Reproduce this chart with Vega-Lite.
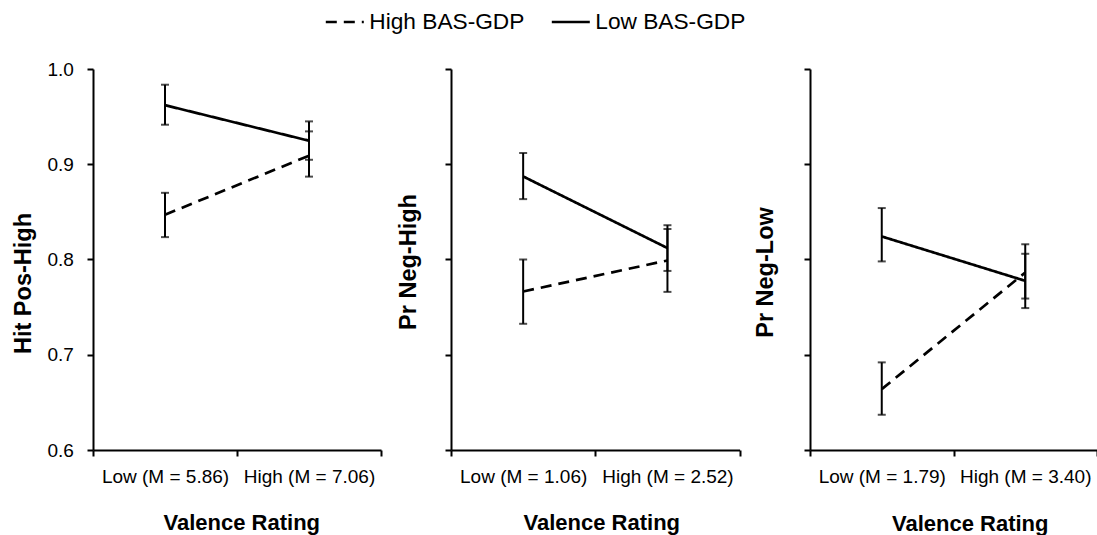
{
  "$schema": "https://vega.github.io/schema/vega-lite/v6.json",
  "background": "white",
  "padding": {"left": 11, "top": 1, "right": 0, "bottom": 0},
  "data": {
    "values": [
      {"panel": "A", "group": "High BAS-GDP", "valence": "Low (M = 5.86)", "value": 0.847, "lo": 0.8235, "hi": 0.870},
      {"panel": "A", "group": "High BAS-GDP", "valence": "High (M = 7.06)", "value": 0.909, "lo": 0.887, "hi": 0.9345},
      {"panel": "A", "group": "Low BAS-GDP", "valence": "Low (M = 5.86)", "value": 0.962, "lo": 0.9415, "hi": 0.9835},
      {"panel": "A", "group": "Low BAS-GDP", "valence": "High (M = 7.06)", "value": 0.9247, "lo": 0.9047, "hi": 0.945},
      {"panel": "B", "group": "High BAS-GDP", "valence": "Low (M = 1.06)", "value": 0.7664, "lo": 0.7325, "hi": 0.800},
      {"panel": "B", "group": "High BAS-GDP", "valence": "High (M = 2.52)", "value": 0.799, "lo": 0.766, "hi": 0.832},
      {"panel": "B", "group": "Low BAS-GDP", "valence": "Low (M = 1.06)", "value": 0.8872, "lo": 0.8634, "hi": 0.9118},
      {"panel": "B", "group": "Low BAS-GDP", "valence": "High (M = 2.52)", "value": 0.812, "lo": 0.788, "hi": 0.836},
      {"panel": "C", "group": "High BAS-GDP", "valence": "Low (M = 1.79)", "value": 0.6639, "lo": 0.637, "hi": 0.692},
      {"panel": "C", "group": "High BAS-GDP", "valence": "High (M = 3.40)", "value": 0.7863, "lo": 0.759, "hi": 0.816},
      {"panel": "C", "group": "Low BAS-GDP", "valence": "Low (M = 1.79)", "value": 0.8242, "lo": 0.798, "hi": 0.854},
      {"panel": "C", "group": "Low BAS-GDP", "valence": "High (M = 3.40)", "value": 0.7776, "lo": 0.749, "hi": 0.806}
    ]
  },
  "spacing": 70,
  "bounds": "flush",
  "resolve": {"scale": {"strokeDash": "shared"}, "legend": {"strokeDash": "shared"}},
  "hconcat": [
    {
      "width": 288, "height": 381,
      "transform": [{"filter": "datum.panel === 'A'"}],
      "encoding": {
        "x": {"field": "valence", "type": "nominal", "sort": null, "title": "Valence Rating",
          "scale": {"type": "band", "paddingInner": 0, "paddingOuter": 0},
          "axis": {"tickBand": "extent", "labelAngle": 0, "titleX": 148.3}}
      },
      "layer": [
        {"mark": {"type": "line", "color": "black", "strokeWidth": 2.7},
         "encoding": {
           "y": {"field": "value", "type": "quantitative", "title": "Hit Pos-High", "scale": {"domain": [0.6, 1.0], "nice": false, "zero": false},
             "axis": {"values": [0.6, 0.7, 0.8, 0.9, 1.0], "format": ".1f", "titlePadding": 11, "titleY": 214}},
           "strokeDash": {"field": "group", "type": "nominal", "scale": {"domain": ["High BAS-GDP", "Low BAS-GDP"], "range": [[11, 7], [1, 0]]},
             "legend": {"orient": "none", "legendX": 231.3, "legendY": -68, "direction": "horizontal", "title": null, "symbolType": "stroke", "symbolSize": 1444, "symbolStrokeWidth": 2.5, "symbolStrokeColor": "black", "labelFontSize": 22.7, "labelColor": "black", "labelOffset": 4, "columnPadding": 21, "padding": 0,
               "encode": {"symbols": {"update": {"strokeDash": {"signal": "datum.value === 'High BAS-GDP' ? [8, 7] : [1, 0]"}}}}}}
         }},
        {"mark": {"type": "rule", "color": "black", "strokeWidth": 2},
         "encoding": {"y": {"field": "lo", "type": "quantitative", "title": "Hit Pos-High"}, "y2": {"field": "hi"}, "detail": {"field": "group"}}},
        {"mark": {"type": "tick", "color": "black", "size": 8, "thickness": 2},
         "encoding": {"y": {"field": "lo", "type": "quantitative", "title": "Hit Pos-High"}}},
        {"mark": {"type": "tick", "color": "black", "size": 8, "thickness": 2},
         "encoding": {"y": {"field": "hi", "type": "quantitative", "title": "Hit Pos-High"}}}
      ]
    },
    {
      "width": 288.6, "height": 381,
      "transform": [{"filter": "datum.panel === 'B'"}],
      "encoding": {
        "x": {"field": "valence", "type": "nominal", "sort": null, "title": "Valence Rating",
          "scale": {"type": "band", "paddingInner": 0, "paddingOuter": 0},
          "axis": {"tickBand": "extent", "labelAngle": 0, "titleX": 150.3}}
      },
      "layer": [
        {"mark": {"type": "line", "color": "black", "strokeWidth": 2.7},
         "encoding": {
           "y": {"field": "value", "type": "quantitative", "title": "Pr Neg-High", "scale": {"domain": [0.6, 1.0], "nice": false, "zero": false},
             "axis": {"values": [0.6, 0.7, 0.8, 0.9, 1.0], "labels": false, "titlePadding": 23.6, "titleY": 192.5}},
           "strokeDash": {"field": "group", "type": "nominal", "scale": {"domain": ["High BAS-GDP", "Low BAS-GDP"], "range": [[11, 7], [1, 0]]},
             "legend": {"orient": "none", "legendX": 231.3, "legendY": -68, "direction": "horizontal", "title": null, "symbolType": "stroke", "symbolSize": 1444, "symbolStrokeWidth": 2.5, "symbolStrokeColor": "black", "labelFontSize": 22.7, "labelColor": "black", "labelOffset": 4, "columnPadding": 21, "padding": 0,
               "encode": {"symbols": {"update": {"strokeDash": {"signal": "datum.value === 'High BAS-GDP' ? [8, 7] : [1, 0]"}}}}}}
         }},
        {"mark": {"type": "rule", "color": "black", "strokeWidth": 2},
         "encoding": {"y": {"field": "lo", "type": "quantitative", "title": "Pr Neg-High"}, "y2": {"field": "hi"}, "detail": {"field": "group"}}},
        {"mark": {"type": "tick", "color": "black", "size": 8, "thickness": 2},
         "encoding": {"y": {"field": "lo", "type": "quantitative", "title": "Pr Neg-High"}}},
        {"mark": {"type": "tick", "color": "black", "size": 8, "thickness": 2},
         "encoding": {"y": {"field": "hi", "type": "quantitative", "title": "Pr Neg-High"}}}
      ]
    },
    {
      "width": 287, "height": 381,
      "transform": [{"filter": "datum.panel === 'C'"}],
      "encoding": {
        "x": {"field": "valence", "type": "nominal", "sort": null, "title": "Valence Rating",
          "scale": {"type": "band", "paddingInner": 0, "paddingOuter": 0},
          "axis": {"tickBand": "extent", "labelAngle": 0, "titleX": 159.7, "titlePadding": 27}}
      },
      "layer": [
        {"mark": {"type": "line", "color": "black", "strokeWidth": 2.7},
         "encoding": {
           "y": {"field": "value", "type": "quantitative", "title": "Pr Neg-Low", "scale": {"domain": [0.6, 1.0], "nice": false, "zero": false},
             "axis": {"values": [0.6, 0.7, 0.8, 0.9, 1.0], "labels": false, "titlePadding": 25.5, "titleY": 203}},
           "strokeDash": {"field": "group", "type": "nominal", "scale": {"domain": ["High BAS-GDP", "Low BAS-GDP"], "range": [[11, 7], [1, 0]]},
             "legend": {"orient": "none", "legendX": 231.3, "legendY": -68, "direction": "horizontal", "title": null, "symbolType": "stroke", "symbolSize": 1444, "symbolStrokeWidth": 2.5, "symbolStrokeColor": "black", "labelFontSize": 22.7, "labelColor": "black", "labelOffset": 4, "columnPadding": 21, "padding": 0,
               "encode": {"symbols": {"update": {"strokeDash": {"signal": "datum.value === 'High BAS-GDP' ? [8, 7] : [1, 0]"}}}}}}
         }},
        {"mark": {"type": "rule", "color": "black", "strokeWidth": 2},
         "encoding": {"y": {"field": "lo", "type": "quantitative", "title": "Pr Neg-Low"}, "y2": {"field": "hi"}, "detail": {"field": "group"}}},
        {"mark": {"type": "tick", "color": "black", "size": 8, "thickness": 2},
         "encoding": {"y": {"field": "lo", "type": "quantitative", "title": "Pr Neg-Low"}}},
        {"mark": {"type": "tick", "color": "black", "size": 8, "thickness": 2},
         "encoding": {"y": {"field": "hi", "type": "quantitative", "title": "Pr Neg-Low"}}}
      ]
    }
  ],
  "config": {
    "font": "Liberation Sans",
    "view": {"stroke": null},
    "axis": {
      "grid": false,
      "domainColor": "black", "domainWidth": 2,
      "tickColor": "black", "tickWidth": 2, "tickSize": 6,
      "labelColor": "black", "labelFontSize": 19,
      "titleColor": "black", "titleFontWeight": "bold"
    },
    "axisX": {"labelPadding": 11.5, "titleFontSize": 22, "titlePadding": 25.7},
    "axisY": {"labelPadding": 13.7, "titleFontSize": 23.5}
  }
}
